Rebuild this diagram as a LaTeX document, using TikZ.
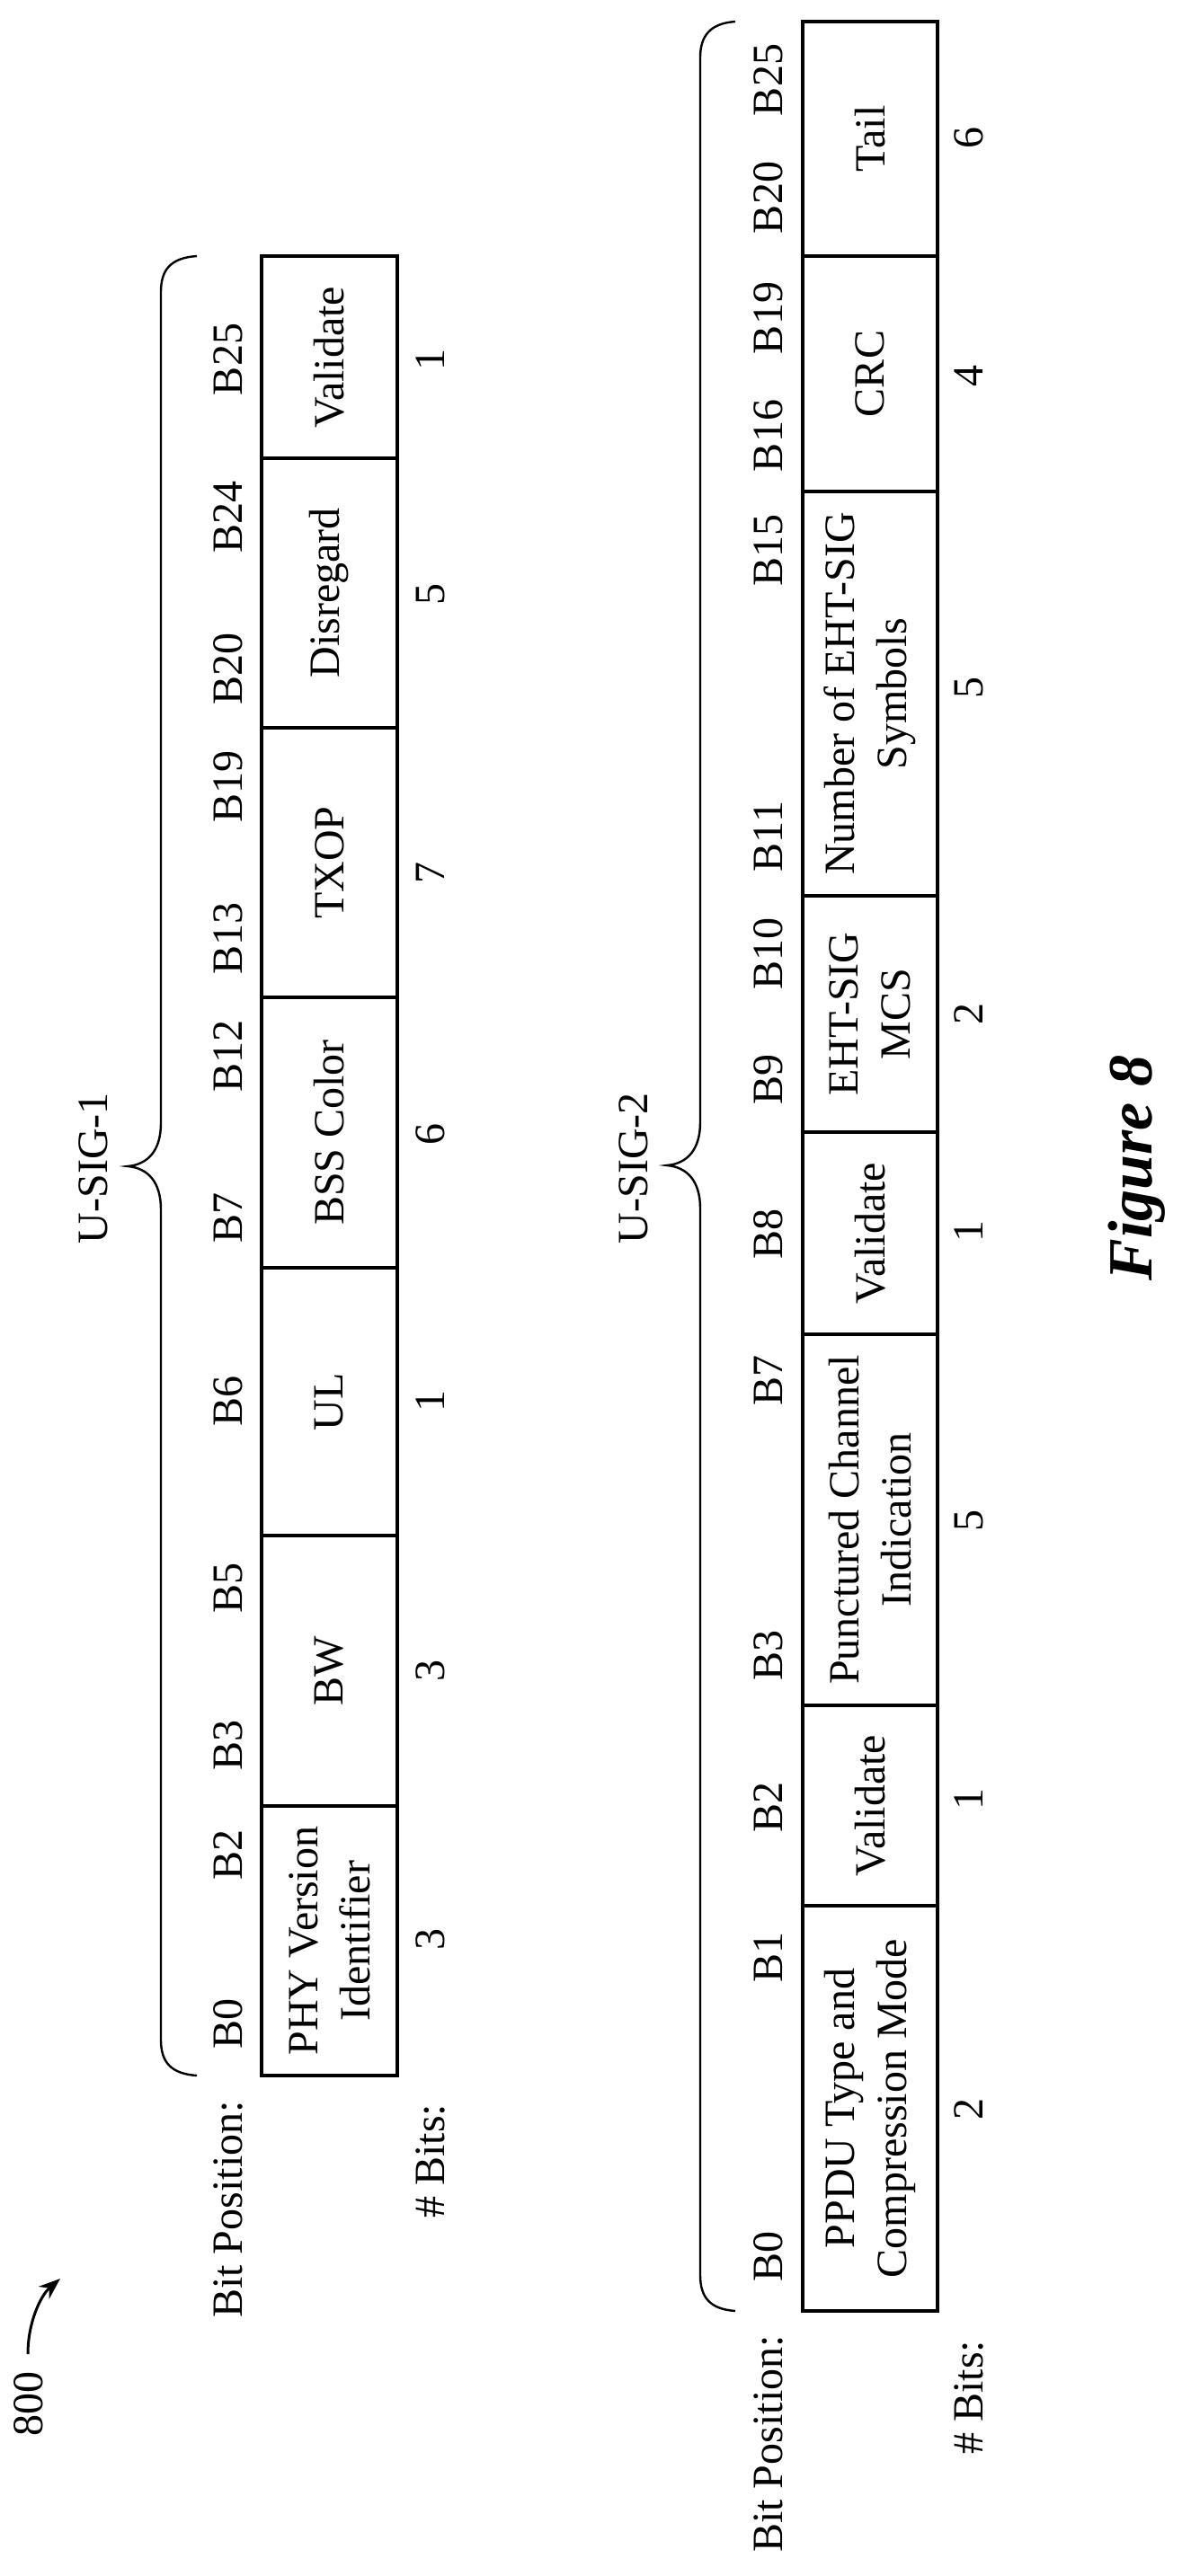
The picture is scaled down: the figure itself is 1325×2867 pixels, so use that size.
\documentclass[tikz,border=0pt]{standalone}
\usepackage{fontspec}
\setmainfont{Liberation Serif}
\usetikzlibrary{arrows.meta}
\begin{document}
\begin{tikzpicture}[x=1pt,y=-1pt,
  every node/.style={rotate=90,font=\fontsize{48}{58}\selectfont,inner sep=0pt,outer sep=0pt},
  field/.style={draw,line width=3.2pt,align=center,minimum height=151pt},
  brc/.style={line width=2.4pt},
  lbl/.style={}]
\useasboundingbox (0,0) rectangle (1325,2867);
% U-SIG-1 fields
\foreach \a/\b/\t [count=\i] in {285/510/Validate,510/810/Disregard,810/1110/TXOP,1110/1411/BSS Color,1411/1709/UL/DL,1709/2010/BW,2010/2310/{PHY Version\\Identifier}}{
  \pgfmathsetmacro{\len}{\b-\a}
  \node[field,minimum width=\len pt] (f\i) at (366.5,{(\a+\b)/2}) {\t};
}
\foreach \y/\t [count=\i] in {400/B25,575/B24,744/B20,875/B19,1044/B13,1175/B12,1355/B7,1559/B6,1767/B5,1942/B3,2064/B2,2252/B0}{
  \node[lbl] (p\i) at (254,\y) {\t};
}
\node[lbl] (bp1) at (254,2459) {Bit Position:};
\foreach \y/\t [count=\i] in {400/1,661/5,971/7,1262/6,1559/1,1859/3,2158/3}{
  \node[lbl] (n\i) at (479,\y) {\t};
}
\node[lbl] (nb1) at (479,2405) {\# Bits:};
\coordinate (b1a) at (219,285);
\coordinate (b1tip) at (142,1298);
\coordinate (b1b) at (219,2310);
\draw[brc] (b1a) .. controls (190,287) and (179,300) .. (179,325) -- (179,1250)
  .. controls (179,1280) and (165,1296) .. (b1tip)
  .. controls (165,1300) and (179,1316) .. (179,1346) -- (179,2270)
  .. controls (179,2295) and (190,2308) .. (b1b);
\node (u1) at (104,1300) {U-SIG-1};
% U-SIG-2 fields
\foreach \a/\b/\t [count=\i] in {24/285/Tail,285/547/CRC,547/997/{Number of EHT-SIG\\Symbols},997/1260/{EHT-SIG\\MCS},1260/1485/Validate,1485/1898/{Punctured Channel\\Indication},1898/2121/Validate,2121/2572/{PPDU Type and\\Compression Mode}}{
  \pgfmathsetmacro{\len}{\b-\a}
  \node[field,minimum width=\len pt,minimum height=150pt] (g\i) at (968,{(\a+\b)/2}) {\t};
}
\foreach \y/\t [count=\i] in {89/B25,220/B20,354/B19,485/B16,612/B15,931/B11,1061/B10,1201/B9,1373/B8,1536/B7,1842/B3,2011/B2,2178/B1,2511/B0}{
  \node[lbl] (q\i) at (855,\y) {\t};
}
\node[lbl] (bp2) at (855,2720) {Bit Position:};
\foreach \y/\t [count=\i] in {153/6,418/4,765/5,1128/2,1370/1,1692/5,2002/1,2347/2}{
  \node[lbl] (m\i) at (1078,\y) {\t};
}
\node[lbl] (nb2) at (1078,2668) {\# Bits:};
\coordinate (b2a) at (818,24);
\coordinate (b2tip) at (742,1297);
\coordinate (b2b) at (818,2572);
\draw[brc] (b2a) .. controls (790,26) and (779,40) .. (779,64) -- (779,1249)
  .. controls (779,1279) and (765,1295) .. (b2tip)
  .. controls (765,1299) and (779,1315) .. (779,1345) -- (779,2532)
  .. controls (779,2557) and (790,2570) .. (b2b);
\node (u2) at (705,1300) {U-SIG-2};
% Figure label
\node[font=\fontsize{70}{80}\selectfont\bfseries\itshape] (fig) at (1265,1300) {Figure 8};
% 800
\node (ref) at (32,2675) {800};
\coordinate (arrS) at (31,2620);
\coordinate (arrE) at (67,2536);
\draw[line width=3pt,-{Stealth[length=24pt,width=18pt]}] (arrS) .. controls (31,2585) and (45,2555) .. (arrE);
\end{tikzpicture}
\end{document}
